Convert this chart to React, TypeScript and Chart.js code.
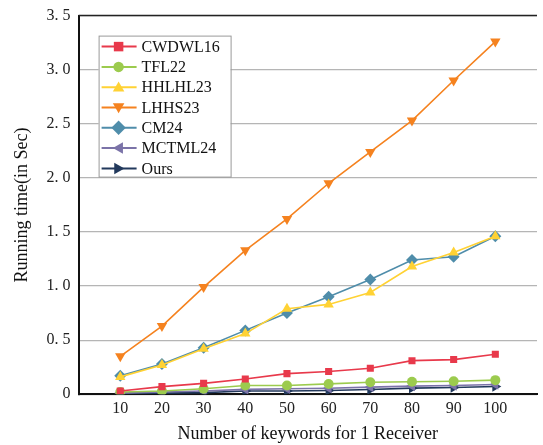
import React, { useEffect, useRef } from "react";
import { Chart, registerables } from "chart.js";

Chart.register(...registerables);

const keywords = [10, 20, 30, 40, 50, 60, 70, 80, 90, 100];
const cwdwl16 = [0.03, 0.07, 0.10, 0.14, 0.19, 0.21, 0.24, 0.31, 0.32, 0.37];
const tfl22 = [0.02, 0.03, 0.05, 0.08, 0.08, 0.095, 0.11, 0.115, 0.12, 0.13];
const hhlhl23 = [0.16, 0.27, 0.42, 0.56, 0.79, 0.83, 0.94, 1.18, 1.31, 1.46];
const lhhs23 = [0.35, 0.63, 0.99, 1.33, 1.62, 1.95, 2.24, 2.53, 2.90, 3.26];
const cm24 = [0.17, 0.28, 0.43, 0.59, 0.75, 0.90, 1.06, 1.24, 1.27, 1.46];
const mctml24 = [0.01, 0.02, 0.03, 0.045, 0.05, 0.055, 0.065, 0.075, 0.08, 0.09];
const ours = [0.005, 0.01, 0.015, 0.03, 0.03, 0.034, 0.043, 0.056, 0.062, 0.071];

const seriesNames = ["CWDWL16", "TFL22", "HHLHL23", "LHHS23", "CM24", "MCTML24", "Ours"];
const seriesValues = [cwdwl16, tfl22, hhlhl23, lhhs23, cm24, mctml24, ours];
const seriesColors = ["#E8394B", "#9CCB4E", "#FFD234", "#F5821F", "#4F8DAA", "#7B73A8", "#22395C"];
const seriesStyles = ["rect", "circle", "triangle", "triangle", "rectRot", "triangle", "triangle"];
const seriesRotations = [0, 0, 0, 180, 0, -90, 90];
const seriesRadius = [5, 5, 6, 6, 6, 6, 6];

const FONT = "'Liberation Serif', 'Times New Roman', serif";

function drawMarker(ctx: CanvasRenderingContext2D, style: string, x: number, y: number, r: number, rot: number, color: string) {
  ctx.save();
  ctx.fillStyle = color;
  ctx.translate(x, y);
  ctx.rotate((rot * Math.PI) / 180);
  ctx.beginPath();
  if (style === "rect") {
    const s = r * 0.95;
    ctx.rect(-s, -s, 2 * s, 2 * s);
  } else if (style === "circle") {
    ctx.arc(0, 0, r * 1.05, 0, Math.PI * 2);
  } else if (style === "rectRot") {
    ctx.moveTo(0, -r * 1.2);
    ctx.lineTo(r * 1.2, 0);
    ctx.lineTo(0, r * 1.2);
    ctx.lineTo(-r * 1.2, 0);
    ctx.closePath();
  } else {
    const a = r * 1.6;
    ctx.moveTo(0, -a * 0.6);
    ctx.lineTo(a * 0.6, a * 0.45);
    ctx.lineTo(-a * 0.6, a * 0.45);
    ctx.closePath();
  }
  ctx.fill();
  ctx.restore();
}

const overlayPlugin = {
  id: "overlay",
  afterDatasetsDraw(chart: any) {
    const { ctx, chartArea } = chart;
    ctx.save();
    ctx.strokeStyle = "#222";
    ctx.lineWidth = 1.5;
    ctx.beginPath();
    ctx.moveTo(chartArea.left, chartArea.top);
    ctx.lineTo(chartArea.right, chartArea.top);
    ctx.stroke();
    const x0 = chartArea.left + 20;
    const y0 = chartArea.top + 20;
    const w = 132;
    const h = 141;
    ctx.fillStyle = "#fff";
    ctx.fillRect(x0, y0, w, h);
    ctx.strokeStyle = "#999";
    ctx.lineWidth = 1;
    ctx.strokeRect(x0 + 0.5, y0 + 0.5, w, h);
    ctx.font = `16px ${FONT}`;
    ctx.textBaseline = "middle";
    for (let i = 0; i < seriesNames.length; i++) {
      const cy = y0 + 11 + i * 20.3;
      ctx.strokeStyle = seriesColors[i];
      ctx.lineWidth = 2;
      ctx.beginPath();
      ctx.moveTo(x0 + 3, cy);
      ctx.lineTo(x0 + 38, cy);
      ctx.stroke();
      drawMarker(ctx, seriesStyles[i], x0 + 20, cy, seriesRadius[i], seriesRotations[i], seriesColors[i]);
      ctx.fillStyle = "#111";
      ctx.fillText(seriesNames[i], x0 + 43, cy + 1);
    }
    ctx.restore();
  },
};

export default function App() {
  const ref = useRef<HTMLCanvasElement>(null);
  useEffect(() => {
    if (!ref.current) return;
    const chart = new Chart(ref.current, {
      type: "line",
      data: {
        datasets: seriesNames.map((name, i) => ({
          label: name,
          data: keywords.map((k, j) => ({ x: k, y: seriesValues[i][j] })),
          borderColor: seriesColors[i],
          backgroundColor: seriesColors[i],
          borderWidth: 1.6,
          pointStyle: seriesStyles[i] as any,
          rotation: seriesRotations[i],
          pointRadius: seriesRadius[i],
          pointBorderWidth: 0,
          fill: false,
          tension: 0,
        })),
      },
      options: {
        responsive: false,
        animation: false,
        layout: { padding: { top: 7, right: 0, left: 11, bottom: 0 } },
        plugins: {
          legend: { display: false },
          tooltip: { enabled: false },
        },
        scales: {
          x: {
            type: "linear",
            min: 0,
            max: 110,
            afterBuildTicks: (axis: any) => {
              axis.ticks = keywords.map((v) => ({ value: v }));
            },
            ticks: {
              color: "#222",
              font: { family: FONT, size: 16 },
              padding: 5,
              maxRotation: 0,
              autoSkip: false,
            },
            grid: { display: false, drawTicks: false },
            border: { color: "#111", width: 2 },
            title: {
              display: true,
              text: "Number of keywords for 1 Receiver",
              color: "#111",
              font: { family: FONT, size: 18 },
              padding: { top: 0, bottom: 0 },
            },
          },
          y: {
            min: 0,
            max: 3.5,
            ticks: {
              stepSize: 0.5,
              color: "#222",
              font: { family: FONT, size: 16, lineHeight: 0.95 },
              padding: 8,
              callback: (v: any) => (v === 0 ? "0" : Number(v).toFixed(1).replace(".", ". ")),
            },
            grid: { color: "#b5b5b5", lineWidth: 1.2, drawTicks: false },
            border: { color: "#111", width: 2 },
            title: {
              display: true,
              text: "Running time(in Sec)",
              color: "#111",
              font: { family: FONT, size: 18 },
              padding: { top: 0, bottom: 6 },
            },
          },
        },
      },
      plugins: [overlayPlugin],
    });
    return () => chart.destroy();
  }, []);
  return (
    <div style={{ position: "absolute", left: 0, top: 0, width: 543, height: 445, background: "#fff" }}>
      <canvas ref={ref} width={543} height={445} />
    </div>
  );
}
